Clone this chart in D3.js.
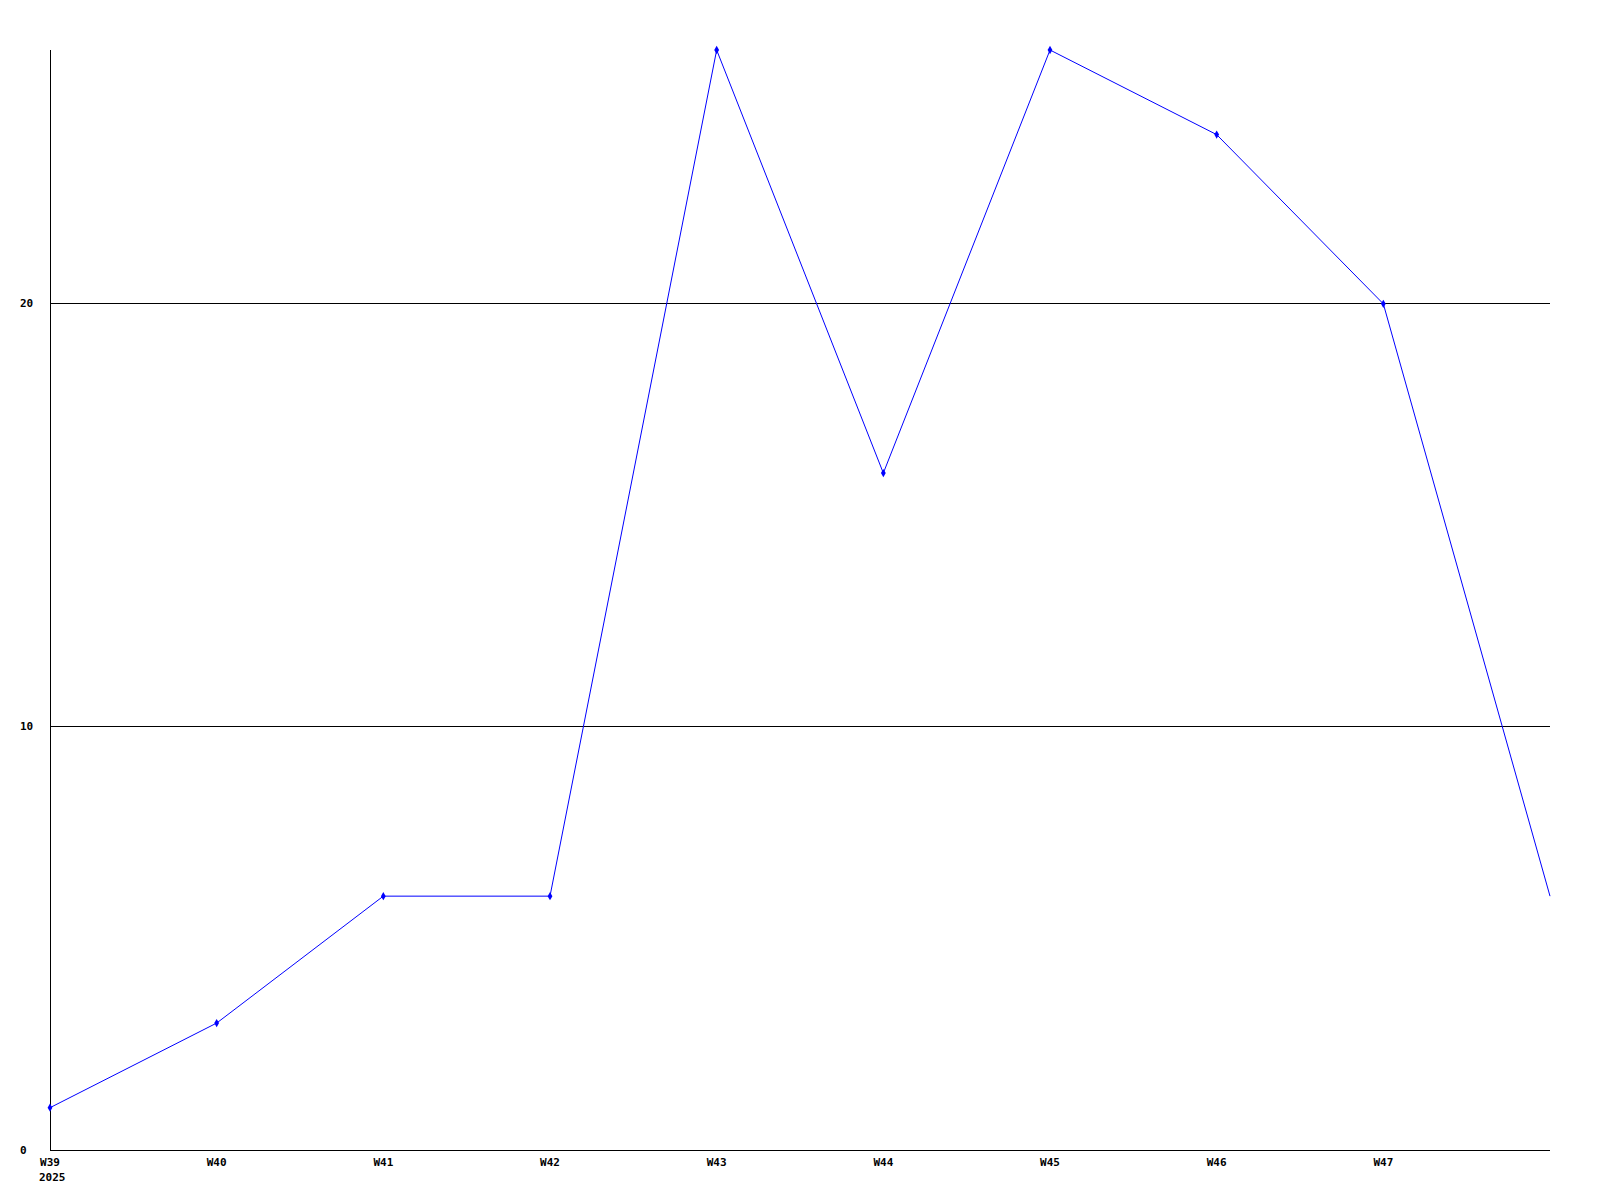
<!DOCTYPE html>
<html>
<head>
<meta charset="utf-8">
<script src="https://cdn.jsdelivr.net/npm/d3@7"></script>
<style>
    body { margin: 0; background: #fff; }
    text { font-family: "DejaVu Sans Mono", monospace; font-weight: bold; font-size: 11px; fill: #000; }
</style>
</head>
<body>
<div id="chart"></div>
<script>
// weeks shown on the x axis, the last one has no label
const weeks = ["W39", "W40", "W41", "W42", "W43", "W44", "W45", "W46", "W47", "W48"];
const weekLabels = ["W39", "W40", "W41", "W42", "W43", "W44", "W45", "W46", "W47", ""];
const counts = [1, 3, 6, 6, 26, 16, 26, 24, 20, 6];
const yTicks = [0, 10, 20];
const yearLabel = "2025";

let WIDTH = 1600,
    HEIGHT = 1200,
    LEFT = 50,
    RIGHT = 1550,
    TOP = 50,
    BOTTOM = 1150;

let svg = d3.select("#chart").append("svg")
    .attr("width", WIDTH)
    .attr("height", HEIGHT);

let x = d3.scalePoint().domain(weeks).range([LEFT, RIGHT]);
let y = d3.scaleLinear().domain([0, 26]).range([BOTTOM, TOP]);

// horizontal grid lines
svg.append("g")
    .selectAll("line")
    .data(yTicks.filter(d => d > 0))
    .join("line")
    .attr("x1", LEFT).attr("x2", RIGHT)
    .attr("y1", d => Math.floor(y(d)) + 0.5)
    .attr("y2", d => Math.floor(y(d)) + 0.5)
    .attr("stroke", "#000")
    .attr("stroke-width", 1);

// axes
svg.append("line")
    .attr("x1", LEFT + 0.5).attr("x2", LEFT + 0.5)
    .attr("y1", TOP).attr("y2", BOTTOM)
    .attr("stroke", "#000");
svg.append("line")
    .attr("x1", LEFT).attr("x2", RIGHT)
    .attr("y1", BOTTOM + 0.5).attr("y2", BOTTOM + 0.5)
    .attr("stroke", "#000");

// y labels
svg.append("g")
    .selectAll("text")
    .data(yTicks)
    .join("text")
    .attr("x", 20)
    .attr("y", d => Math.floor(y(d)))
    .attr("dy", "0.35em")
    .text(d => d);

// x labels
svg.append("g")
    .selectAll("text")
    .data(weeks)
    .join("text")
    .attr("x", d => x(d))
    .attr("y", BOTTOM + 16)
    .attr("text-anchor", "middle")
    .text((d, i) => weekLabels[i]);

svg.append("text")
    .attr("x", x(weeks[0]) - 11)
    .attr("y", BOTTOM + 31)
    .text(yearLabel);

// the line
let data = weeks.map((w, i) => ({ w: w, v: counts[i] }));
let line = d3.line()
    .x(d => x(d.w))
    .y(d => y(d.v));

svg.append("path")
    .datum(data)
    .attr("d", line)
    .attr("fill", "none")
    .attr("stroke", "#0000ff")
    .attr("stroke-width", 1);

// small diamond markers, not on the last point
svg.append("g")
    .selectAll("path")
    .data(data.slice(0, -1))
    .join("path")
    .attr("d", d3.symbol().type(d3.symbolDiamond).size(20))
    .attr("transform", d => `translate(${x(d.w)}, ${y(d.v)})`)
    .attr("fill", "#0000ff");
</script>
</body>
</html>
